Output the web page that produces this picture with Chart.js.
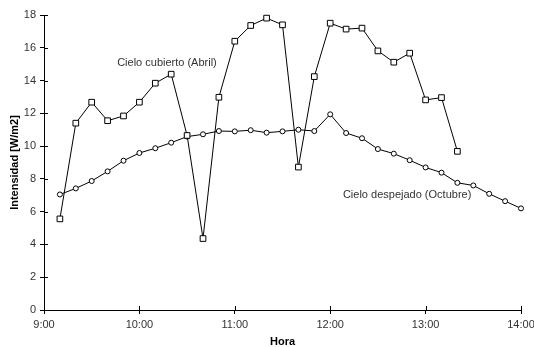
<!DOCTYPE html>
<html>
<head>
<meta charset="utf-8">
<script src="https://cdn.jsdelivr.net/npm/chart.js@4"></script>
<style>
  html, body { margin: 0; padding: 0; background: #fff; }
  #wrap { width: 534px; height: 347px; }
</style>
</head>
<body>
<div id="wrap"><canvas id="chart" width="534" height="347"></canvas></div>
<script>
// hora de cada medida (cada 10 min)
const horas = ["9:10","9:20","9:30","9:40","9:50","10:00","10:10","10:20","10:30","10:40",
  "10:50","11:00","11:10","11:20","11:30","11:40","11:50","12:00","12:10","12:20",
  "12:30","12:40","12:50","13:00","13:10","13:20","13:30","13:40","13:50","14:00"];
const cubierto = [5.56, 11.4, 12.68, 11.55, 11.84, 12.68, 13.84, 14.39, 10.65, 4.36,
  12.98, 16.4, 17.36, 17.81, 17.4, 8.72, 14.24, 17.5, 17.14, 17.2,
  15.81, 15.12, 15.67, 12.82, 12.96, 9.68];
const despejado = [7.05, 7.42, 7.87, 8.46, 9.11, 9.58, 9.87, 10.21, 10.58, 10.72,
  10.92, 10.9, 10.97, 10.82, 10.9, 11.0, 10.92, 11.94, 10.8, 10.48,
  9.82, 9.54, 9.14, 8.7, 8.38, 7.76, 7.6, 7.09, 6.64, 6.2];
const xTicks = ["9:00","10:00","11:00","12:00","13:00","14:00"];
const etiquetas = [
  { text: "Cielo cubierto (Abril)", t: "9:46", v: 15.08 },
  { text: "Cielo despejado (Octubre)", t: "12:08", v: 7.01 }
];

const toMin = s => { const [h, m] = s.split(":").map(Number); return h * 60 + m; };
const fmtHora = v => Math.floor(v / 60) + ":" + String(v % 60).padStart(2, "0");
const pts = vals => vals.map((y, i) => ({ x: toMin(horas[i]), y }));

const FONT = "'Liberation Sans', Arial, Helvetica, sans-serif";
const TXT = "#333";

// marcas de eje que cruzan la línea hacia dentro + textos de serie
const extras = {
  id: "extras",
  afterDraw(c) {
    const { ctx, scales: { x, y } } = c;
    ctx.save();
    ctx.strokeStyle = "#000";
    ctx.lineWidth = 1;
    ctx.beginPath();
    xTicks.forEach(t => {
      const px = Math.round(x.getPixelForValue(toMin(t))) + 0.5;
      ctx.moveTo(px, y.bottom);
      ctx.lineTo(px, y.bottom - 4);
    });
    for (let v = 0; v <= 18; v += 2) {
      const py = Math.round(y.getPixelForValue(v)) + 0.5;
      ctx.moveTo(x.left, py);
      ctx.lineTo(x.left + 4, py);
    }
    ctx.stroke();
    ctx.fillStyle = TXT;
    ctx.font = "11px " + FONT;
    ctx.textBaseline = "middle";
    ctx.textAlign = "left";
    etiquetas.forEach(e => {
      ctx.fillText(e.text, x.getPixelForValue(toMin(e.t)), y.getPixelForValue(e.v));
    });
    ctx.restore();
  }
};

new Chart(document.getElementById("chart"), {
  type: "line",
  data: {
    datasets: [
      {
        label: "Cielo cubierto (Abril)",
        data: pts(cubierto),
        borderColor: "#000",
        borderWidth: 1,
        pointStyle: "rect",
        pointRadius: 4,
        pointBorderWidth: 1,
        pointBorderColor: "#000",
        pointBackgroundColor: "#fff",
        tension: 0,
        clip: false
      },
      {
        label: "Cielo despejado (Octubre)",
        data: pts(despejado),
        borderColor: "#000",
        borderWidth: 1,
        pointStyle: "circle",
        pointRadius: 2.5,
        pointBorderWidth: 1,
        pointBorderColor: "#000",
        pointBackgroundColor: "#fff",
        tension: 0,
        clip: false
      }
    ]
  },
  options: {
    responsive: false,
    animation: false,
    devicePixelRatio: 1,
    layout: { padding: { top: 15, right: 13, left: 0, bottom: 0 } },
    plugins: { legend: { display: false }, tooltip: { enabled: false } },
    scales: {
      x: {
        type: "linear",
        min: toMin(xTicks[0]),
        max: toMin(xTicks[xTicks.length - 1]),
        afterBuildTicks: s => { s.ticks = xTicks.map(t => ({ value: toMin(t) })); },
        afterFit: s => { s.height = 37; s.paddingRight = 0; s.paddingLeft = 0; },
        ticks: { callback: v => fmtHora(v), color: TXT, font: { family: FONT, size: 11 }, padding: 4, maxRotation: 0 },
        grid: { drawOnChartArea: false, drawTicks: true, tickLength: 4, color: "#000" },
        border: { display: true, color: "#000" },
        title: { display: true, text: "Hora", color: "#000", font: { family: FONT, size: 11, weight: "bold", lineHeight: 1 }, padding: { top: 0, bottom: 0 } }
      },
      y: {
        min: 0,
        max: 18,
        afterFit: s => { s.width = 44; s.paddingTop = 0; s.paddingBottom = 0; },
        ticks: { stepSize: 2, color: TXT, font: { family: FONT, size: 11 }, padding: 4 },
        grid: { drawOnChartArea: false, drawTicks: true, tickLength: 4, color: "#000" },
        border: { display: true, color: "#000" },
        title: { display: true, text: "Intensidad [W/m2]", color: "#000", font: { family: FONT, size: 11, weight: "bold", lineHeight: 1 }, padding: { top: 9, bottom: 0 } }
      }
    }
  },
  plugins: [extras]
});
</script>
</body>
</html>
